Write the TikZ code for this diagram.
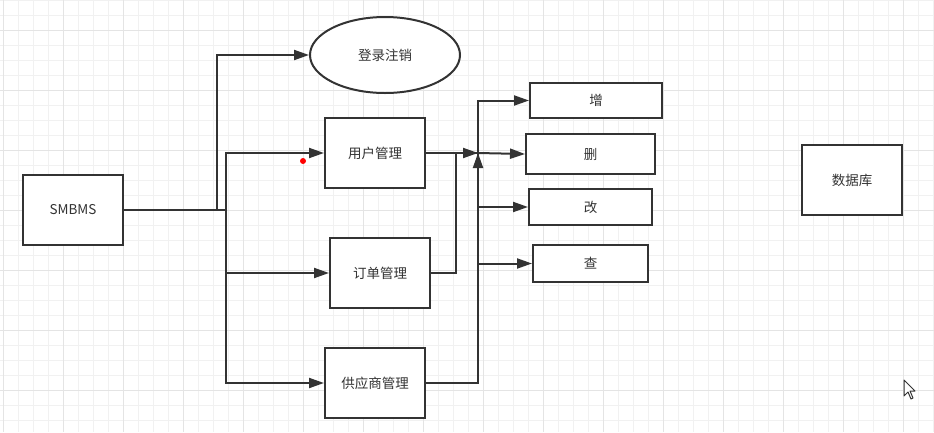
\documentclass[tikz,border=0pt]{standalone}
\usepackage{fontspec}
\newfontfamily\cjk{Noto Sans CJK SC}
\usetikzlibrary{arrows.meta, shapes.geometric}
\definecolor{linegray}{HTML}{333333}
\definecolor{gridminor}{HTML}{F1F1F1}
\definecolor{gridmajor}{HTML}{E4E4E4}
\tikzstyle{arrow} = [line width=2pt, draw=linegray, -{Triangle[length=15pt,width=10pt]}]
\tikzstyle{link} = [line width=2pt, draw=linegray]

\begin{document}
\begin{tikzpicture}[x=1pt, y=-1pt,
    box/.style={rectangle, draw=linegray, line width=2pt, fill=white, minimum width=100pt, minimum height=70pt, text=linegray, font=\cjk\fontsize{13.5}{16}\selectfont},
    opbox/.style={box, minimum height=36pt},
    oval/.style={ellipse, draw=linegray, line width=2pt, fill=white, minimum width=150pt, minimum height=76pt, text=linegray, font=\cjk\fontsize{13.5}{16}\selectfont}]

    % Canvas and grid
    \useasboundingbox[fill=white] (0,0) rectangle (934,432);
    \foreach \gx in {3,18,...,933} \draw[gridminor, line width=1pt] (\gx,0) -- (\gx,432);
    \foreach \gy in {0,15,...,432} \draw[gridminor, line width=1pt] (0,\gy) -- (934,\gy);
    \foreach \gx in {3,63,...,933} \draw[gridmajor, line width=1pt] (\gx,0) -- (\gx,432);
    \foreach \gy in {30,90,...,432} \draw[gridmajor, line width=1pt] (0,\gy) -- (934,\gy);

    % System and modules
    \node[box] (smbms) at (73,210) {SMBMS};
    \node[oval] (login) at (385,55) {登录注销};
    \node[box] (user) at (375,153) {用户管理};
    \node[box] (order) at (380,273) {订单管理};
    \node[box] (supplier) at (375,383) {供应商管理};

    % Operations
    \node[opbox, minimum width=132pt, minimum height=35pt] (add) at (596,100.5) {增};
    \node[opbox, minimum width=129pt, minimum height=40pt] (del) at (590.5,154) {删};
    \node[opbox, minimum width=123pt] (edit) at (590.5,207) {改};
    \node[opbox, minimum width=115pt, minimum height=37pt] (query) at (590.5,263.5) {查};

    % Storage
    \node[box] (db) at (852,180) {数据库};

    % Junctions
    \coordinate (split) at (226,210);
    \coordinate (hub) at (478,153);

    % System to modules
    \draw[arrow] (smbms.east) -- ++(93,0) |- (login.west);
    \draw[arrow] (smbms.east) -- (split) |- (user.west);
    \draw[arrow] (split) |- (order.west);
    \draw[arrow] (split) |- (supplier.west);

    % Modules to hub
    \draw[arrow] (user.east) -- (hub);
    \draw[link] (order.east) -- ++(25,0) |- (hub);
    \draw[arrow] (supplier.east) -| (hub);

    % Hub to operations
    \draw[arrow] (hub) |- (add.west);
    \draw[arrow] (hub) -- (del.west);
    \draw[arrow] (hub) |- (edit.west);
    \draw[arrow] (hub) |- (query.west);

    % Marker and pointer
    \fill[red] (303,161) circle (3pt);
    \draw[linegray, fill=white, line width=1pt, line join=round] (904,380) -- (904,396) -- (908,392) -- (911,399) -- (913,398) -- (910,391) -- (915,391) -- cycle;
\end{tikzpicture}
\end{document}
